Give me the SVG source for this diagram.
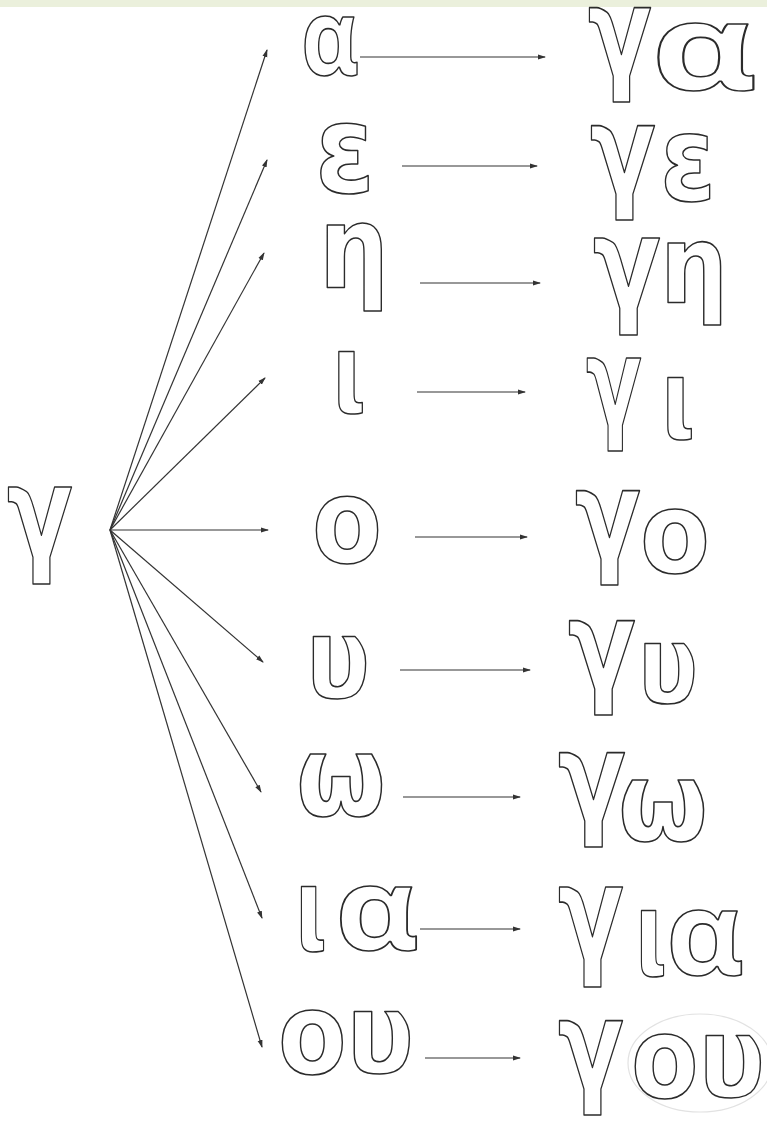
<svg xmlns="http://www.w3.org/2000/svg" width="767" height="1123" viewBox="0 0 767 1123">
<style>
.g{font-family:"DejaVu Sans",sans-serif;font-weight:bold;fill:#fff;stroke:#2b2b2b;stroke-width:1.6;stroke-linejoin:round;text-anchor:middle}
.a{font-family:"Open Sans","DejaVu Sans",sans-serif}
.ln{stroke:#333;stroke-width:1.2;fill:none}
</style>
<defs>
<marker id="ah" viewBox="0 0 8 6" refX="7" refY="3" markerWidth="8" markerHeight="6" markerUnits="userSpaceOnUse" orient="auto">
<path d="M0,0.5 L8,3 L0,5.5 Z" fill="#333"/>
</marker>
</defs>
<rect x="0" y="0" width="767" height="1123" fill="#fff"/>
<rect x="0" y="0" width="767" height="7" fill="#ebf0dc"/>

<g id="hub"><text class="g" x="40" y="557" font-size="128" textLength="66" lengthAdjust="spacingAndGlyphs">γ</text></g>

<g id="connectors" class="ln" marker-end="url(#ah)">
<line x1="110" y1="530" x2="267" y2="50"/>
<line x1="110" y1="530" x2="267" y2="160"/>
<line x1="110" y1="530" x2="264" y2="253"/>
<line x1="110" y1="530" x2="265" y2="378"/>
<line x1="110" y1="530" x2="268" y2="530"/>
<line x1="110" y1="530" x2="263" y2="662"/>
<line x1="110" y1="530" x2="261" y2="792"/>
<line x1="110" y1="530" x2="262" y2="918"/>
<line x1="110" y1="530" x2="262" y2="1047"/>
<line x1="360" y1="57" x2="545" y2="57"/>
<line x1="402" y1="166" x2="537" y2="166"/>
<line x1="420" y1="283" x2="540" y2="283"/>
<line x1="417" y1="392" x2="525" y2="392"/>
<line x1="415" y1="537" x2="527" y2="537"/>
<line x1="400" y1="670" x2="530" y2="670"/>
<line x1="403" y1="797" x2="520" y2="797"/>
<line x1="420" y1="929" x2="520" y2="929"/>
<line x1="425" y1="1058" x2="520" y2="1058"/>
</g>

<g id="row-a">
<text class="g a" x="330" y="75" font-size="106" textLength="58" lengthAdjust="spacingAndGlyphs">α</text>
<text class="g" x="620" y="76" font-size="125" textLength="64" lengthAdjust="spacingAndGlyphs">γ</text>
<text class="g a" x="704" y="90" font-size="120" textLength="106" lengthAdjust="spacingAndGlyphs">α</text>
</g>
<g id="row-e">
<text class="g" x="345" y="192" font-size="122" textLength="60" lengthAdjust="spacingAndGlyphs">ε</text>
<text class="g" x="623" y="194" font-size="124" textLength="66" lengthAdjust="spacingAndGlyphs">γ</text>
<text class="g" x="688" y="200" font-size="119" textLength="56" lengthAdjust="spacingAndGlyphs">ε</text>
</g>
<g id="row-h">
<text class="g" x="354" y="287" font-size="114" textLength="70" lengthAdjust="spacingAndGlyphs">η</text>
<text class="g" x="627" y="308" font-size="128" textLength="68" lengthAdjust="spacingAndGlyphs">γ</text>
<text class="g" x="694" y="302" font-size="108" textLength="68" lengthAdjust="spacingAndGlyphs">η</text>
</g>
<g id="row-i">
<text class="g" x="349" y="412" font-size="110" textLength="34" lengthAdjust="spacingAndGlyphs">ι</text>
<text class="g" x="614" y="425" font-size="122" textLength="56" lengthAdjust="spacingAndGlyphs">γ</text>
<text class="g" x="678" y="438" font-size="110" textLength="34" lengthAdjust="spacingAndGlyphs">ι</text>
</g>
<g id="row-o">
<text class="g" x="347" y="562" font-size="117" textLength="70" lengthAdjust="spacingAndGlyphs">ο</text>
<text class="g" x="608" y="559" font-size="125" textLength="66" lengthAdjust="spacingAndGlyphs">γ</text>
<text class="g" x="675" y="572" font-size="113" textLength="70" lengthAdjust="spacingAndGlyphs">ο</text>
</g>
<g id="row-u">
<text class="g" x="338" y="698" font-size="112" textLength="64" lengthAdjust="spacingAndGlyphs">υ</text>
<text class="g" x="602" y="689" font-size="124" textLength="68" lengthAdjust="spacingAndGlyphs">γ</text>
<text class="g" x="668" y="702" font-size="108" textLength="60" lengthAdjust="spacingAndGlyphs">υ</text>
</g>
<g id="row-w">
<text class="g" x="341" y="815" font-size="113" textLength="90" lengthAdjust="spacingAndGlyphs">ω</text>
<text class="g" x="592" y="821" font-size="125" textLength="68" lengthAdjust="spacingAndGlyphs">γ</text>
<text class="g" x="663" y="840" font-size="110" textLength="90" lengthAdjust="spacingAndGlyphs">ω</text>
</g>
<g id="row-ia">
<text class="g" y="950" font-size="115"><tspan x="311" textLength="32" lengthAdjust="spacingAndGlyphs">ι</tspan><tspan class="a" x="377" textLength="84" lengthAdjust="spacingAndGlyphs">α</tspan></text>
<text class="g" x="591" y="960" font-size="132" textLength="66" lengthAdjust="spacingAndGlyphs">γ</text>
<text class="g" y="975" font-size="117"><tspan x="651" textLength="32" lengthAdjust="spacingAndGlyphs">ι</tspan><tspan class="a" x="705" textLength="78" lengthAdjust="spacingAndGlyphs">α</tspan></text>
</g>
<g id="row-ou">
<text class="g" x="346" y="1073" font-size="112" textLength="136" lengthAdjust="spacingAndGlyphs">ου</text>
<text class="g" x="591" y="1089" font-size="124" textLength="66" lengthAdjust="spacingAndGlyphs">γ</text>
<ellipse cx="700" cy="1063" rx="72" ry="49" fill="none" stroke="#e2e2e2" stroke-width="1.2"/>
<text class="g" x="698" y="1097" font-size="113" textLength="134" lengthAdjust="spacingAndGlyphs">ου</text>
</g>
</svg>
